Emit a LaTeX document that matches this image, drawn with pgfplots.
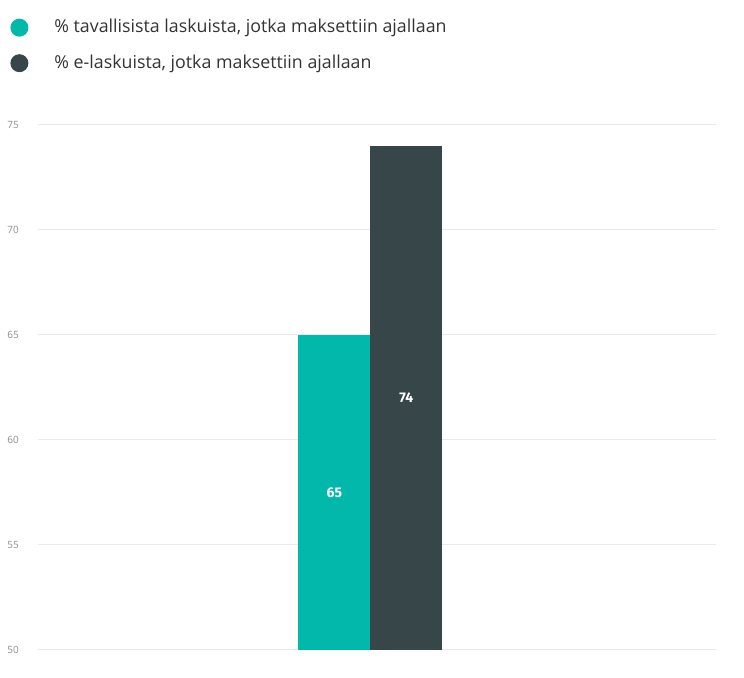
\documentclass[border=0pt]{standalone}
\usepackage{pgfplots}
\pgfplotsset{compat=1.18}
\usepackage{fontspec}
\setmainfont{Open Sans}
\newfontfamily\labelfont{Fira Sans}
\usetikzlibrary{calc}
\definecolor{pbiteal}{HTML}{01B8AA}
\definecolor{pbidark}{HTML}{374649}
\definecolor{gridgray}{HTML}{EAEAEA}
\definecolor{tickgray}{HTML}{8C8C8C}
\definecolor{legtext}{HTML}{333333}

\begin{document}
\begin{tikzpicture}
\begin{axis}[
  name=ax,
  scale only axis, width=339pt, height=262.5pt,
  ymin=50, ymax=75, ytick={50,55,...,75},
  xmin=-1, xmax=1.04, xtick=\empty,
  axis line style={draw=none}, major tick length=0pt,
  ymajorgrids, grid style={gridgray, line width=0.5pt},
  yticklabel style={font=\fontsize{5}{6}\selectfont, text=tickgray, xshift=-6pt},
  /pgf/number format/assume math mode=true,
  ybar=0pt, bar width=36pt,
  legend image code/.code={\fill[#1] (0pt,0pt) circle (4.5pt);},
  legend style={at={(0,1)}, anchor=north west, xshift=-14pt, yshift=55pt,
    draw=none, fill=none, text=legtext, font=\fontsize{8.9}{10}\selectfont,
    row sep=5.5pt, inner sep=0pt,
    /tikz/every odd column/.append style={column sep=11pt}},
  legend cell align=left,
]
\addplot[fill=pbiteal, draw=none] coordinates {(0,65)};
\addplot[fill=pbidark, draw=none] coordinates {(0,74)};
\legend{{\% tavallisista laskuista, jotka maksettiin ajallaan},
        {\% e-laskuista, jotka maksettiin ajallaan}}
\node[text=white, font=\labelfont\bfseries\fontsize{7}{8}\selectfont, xshift=-18pt]
  at (axis cs:0,57.5) {65};
\node[text=white, font=\labelfont\bfseries\fontsize{7}{8}\selectfont, xshift=18pt]
  at (axis cs:0,62) {74};
\end{axis}
\path[use as bounding box] ($(ax.south west)+(-19pt,-14pt)$) rectangle ($(ax.north east)+(14pt,62.5pt)$);
\end{tikzpicture}
\end{document}
